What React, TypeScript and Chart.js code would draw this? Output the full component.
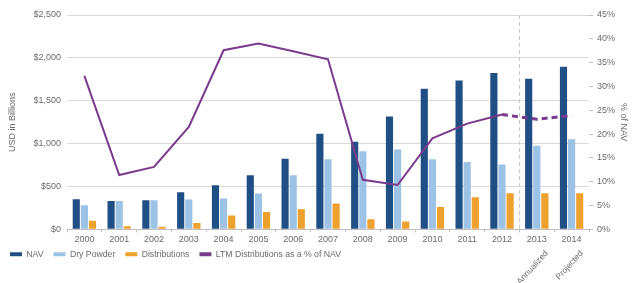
import React, { useEffect, useRef } from "react";
import { Chart, registerables } from "chart.js";

Chart.register(...registerables);

const categories = ["2000", "2001", "2002", "2003", "2004", "2005", "2006", "2007", "2008", "2009", "2010", "2011", "2012", "2013", "2014"];
const navValues = [350, 330, 340, 432, 514, 631, 822, 1115, 1020, 1315, 1639, 1737, 1822, 1756, 1896];
const dryPowderValues = [280, 330, 340, 347, 358, 417, 631, 818, 911, 931, 818, 786, 755, 974, 1051];
const distributionValues = [100, 35, 30, 74, 160, 202, 234, 300, 117, 90, 261, 374, 420, 420, 420];
const ltmPctValues = [32.2, 11.4, 13.1, 21.5, 37.6, 39.0, 37.4, 35.7, 10.4, 9.3, 19.1, 22.2, 24.1, 23.1, 23.9];
const leftTicks = [0, 500, 1000, 1500, 2000, 2500];
const rightTicks = [0, 5, 10, 15, 20, 25, 30, 35, 40, 45];
const belowLabels = [
  { index: 13, text: "Annualized" },
  { index: 14, text: "Projected" },
];
const projectionStart = 12;

const FONT = "'Liberation Sans', Arial, sans-serif";
const TEXT = "#6b6b6b";
const NAV_C = "#1f4f85";
const DP_C = "#9cc2e5";
const DIST_C = "#eea12c";
const LINE_C = "#7a3b8c";

export default function App() {
  const ref = useRef<HTMLCanvasElement | null>(null);

  useEffect(() => {
    document.body.style.margin = "0";
    const canvas = ref.current;
    if (!canvas) return;

    const extras = {
      id: "extras",
      afterLayout(chart: any) {
        const lg = chart.legend;
        if (lg) {
          lg.top -= 5.5;
          lg.bottom -= 5.5;
        }
      },
      beforeDatasetsDraw(chart: any) {
        const { ctx, chartArea, scales } = chart;
        const x = scales.x;
        const px = (x.getPixelForValue(projectionStart) + x.getPixelForValue(projectionStart + 1)) / 2;
        ctx.save();
        ctx.strokeStyle = "#c9c9c9";
        ctx.lineWidth = 1;
        ctx.setLineDash([4, 3]);
        ctx.beginPath();
        ctx.moveTo(Math.round(px) + 0.5, chartArea.top);
        ctx.lineTo(Math.round(px) + 0.5, chartArea.bottom);
        ctx.stroke();
        ctx.restore();
      },
      afterDraw(chart: any) {
        const { ctx, scales } = chart;
        const x = scales.x;
        ctx.save();
        ctx.fillStyle = TEXT;
        ctx.font = `8.5px ${FONT}`;
        ctx.textAlign = "right";
        ctx.textBaseline = "middle";
        belowLabels.forEach((l) => {
          const px = x.getPixelForValue(l.index) + 10;
          ctx.save();
          ctx.translate(px, 252);
          ctx.rotate(-Math.PI / 4 - 0.05);
          ctx.fillText(l.text, 0, 0);
          ctx.restore();
        });
        ctx.restore();
      },
    };

    const chart = new Chart(canvas, {
      type: "bar",
      data: {
        labels: categories,
        datasets: [
          {
            type: "line",
            label: "LTM Distributions as a % of NAV",
            data: ltmPctValues,
            yAxisID: "y1",
            borderColor: LINE_C,
            backgroundColor: LINE_C,
            borderWidth: 2,
            pointRadius: 0,
            tension: 0,
            order: 0,
            segment: {
              borderDash: (c: any) => (c.p0DataIndex >= projectionStart ? [6, 4] : undefined),
              borderWidth: (c: any) => (c.p0DataIndex >= projectionStart ? 3 : 2),
            },
          } as any,
          {
            label: "NAV",
            data: navValues,
            backgroundColor: NAV_C,
            yAxisID: "y",
            order: 1,
          },
          {
            label: "Dry Powder",
            data: dryPowderValues,
            backgroundColor: DP_C,
            yAxisID: "y",
            order: 1,
          },
          {
            label: "Distributions",
            data: distributionValues,
            backgroundColor: DIST_C,
            yAxisID: "y",
            order: 1,
          },
        ],
      },
      options: {
        animation: false,
        responsive: false,
        maintainAspectRatio: false,
        layout: { padding: { top: 15, bottom: 9, left: 0, right: 0 } },
        datasets: {
          bar: { barPercentage: 0.88, categoryPercentage: 0.7 },
        } as any,
        plugins: {
          tooltip: { enabled: false },
          legend: {
            position: "bottom",
            align: "start",
            labels: {
              font: { family: FONT, size: 8.7 },
              color: TEXT,
              boxWidth: 12,
              boxHeight: 4,
              padding: 10,
              generateLabels: (chart: any) => {
                const items = Chart.defaults.plugins.legend.labels.generateLabels(chart);
                const order = ["NAV", "Dry Powder", "Distributions", "LTM Distributions as a % of NAV"];
                return items
                  .map((it: any) => {
                    const ds = chart.data.datasets[it.datasetIndex];
                    const col = ds.type === "line" ? ds.borderColor : ds.backgroundColor;
                    return { ...it, fillStyle: col, strokeStyle: col, lineWidth: 0, lineDash: [] };
                  })
                  .sort((a: any, b: any) => order.indexOf(a.text) - order.indexOf(b.text));
              },
            },
          },
        },
        scales: {
          x: {
            offset: true,
            grid: { display: true, drawOnChartArea: false, drawTicks: true, tickLength: 3, color: "#bfbfbf", offset: true },
            border: { display: true, color: "#bfbfbf" },
            ticks: { font: { family: FONT, size: 9 }, color: TEXT, padding: 2, maxRotation: 0 },
            afterFit: (s: any) => {
              s.height = 16;
            },
          },
          y: {
            position: "left",
            min: 0,
            max: 2500,
            afterBuildTicks: (s: any) => {
              s.ticks = leftTicks.map((v) => ({ value: v }));
            },
            grid: { color: "#d9d9d9", drawTicks: false },
            border: { display: false },
            ticks: {
              font: { family: FONT, size: 9 },
              color: TEXT,
              padding: 6,
              callback: (v: any) => "$" + Number(v).toLocaleString("en-US"),
            },
            title: { display: true, text: "USD in Billions", font: { family: FONT, size: 9 }, color: TEXT, padding: { top: 7, bottom: 0 } },
            afterFit: (s: any) => {
              s.width = 67;
            },
          },
          y1: {
            position: "right",
            min: 0,
            max: 45,
            afterBuildTicks: (s: any) => {
              s.ticks = rightTicks.map((v) => ({ value: v }));
            },
            grid: { drawOnChartArea: false, drawTicks: true, tickLength: 4, color: "#bfbfbf" },
            border: { display: false },
            ticks: { font: { family: FONT, size: 9 }, color: TEXT, padding: 4, callback: (v: any) => v + "%" },
            title: { display: true, text: "% of NAV", font: { family: FONT, size: 9 }, color: TEXT, padding: { top: 4, bottom: 0 } },
            afterFit: (s: any) => {
              s.width = 44;
            },
          },
        },
      },
      plugins: [extras],
    });

    return () => chart.destroy();
  }, []);

  return (
    <div style={{ width: 633, height: 283, background: "#ffffff" }}>
      <canvas ref={ref} width={633} height={283} style={{ display: "block" }} />
    </div>
  );
}
